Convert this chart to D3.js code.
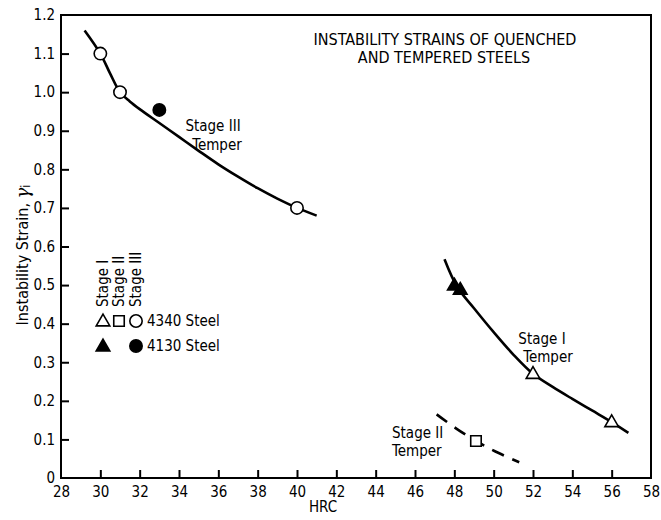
<!DOCTYPE html>
<html><head><meta charset="utf-8">
<script src="https://cdn.jsdelivr.net/npm/d3@7"></script>
<style>
body{margin:0;background:#fff;}
text{font-family:"DejaVu Sans Condensed","Liberation Sans Narrow","Liberation Sans",Arial,sans-serif;fill:#000;}
</style></head>
<body><svg id="c" width="661" height="520"></svg>
<script>
// ---- data ----
const xTicks = [28,30,32,34,36,38,40,42,44,46,48,50,52,54,56,58];
const yTicks = [0,0.1,0.2,0.3,0.4,0.5,0.6,0.7,0.8,0.9,1.0,1.1,1.2];
const yTickLabels = ["0","0.1","0.2","0.3","0.4","0.5","0.6","0.7","0.8","0.9","1.0","1.1","1.2"];

// fitted curves
const stage3CurveX = [29.2,30,30.5,31,31.5,32,33,34,35,36,37,38,39,40,41];
const stage3CurveY = [1.16,1.10,1.048,1.00,0.976,0.956,0.92,0.884,0.848,0.813,0.781,0.751,0.724,0.70,0.68];
const stage1CurveX = [47.5,48.15,49,50,51,52,53,54,55,56,56.85];
const stage1CurveY = [0.567,0.495,0.44,0.378,0.32,0.27,0.236,0.205,0.175,0.145,0.117];
const stage2CurveX = [47.1,48.1,49.1,50.2,51.3];
const stage2CurveY = [0.165,0.128,0.096,0.066,0.041];

// data points
const s4340Stage3X = [30,31,40];   const s4340Stage3Y = [1.10,1.00,0.70];
const s4130Stage3X = [33];         const s4130Stage3Y = [0.954];
const s4340Stage1X = [52,56];      const s4340Stage1Y = [0.271,0.146];
const s4130Stage1X = [48.0,48.3];  const s4130Stage1Y = [0.50,0.489];
const s4340Stage2X = [49.1];       const s4340Stage2Y = [0.096];

// ---- layout ----
const svg = d3.select("#c");
const x = d3.scaleLinear().domain([28,58]).range([61,651]);
const y = d3.scaleLinear().domain([0,1.2]).range([478,15]);

svg.append("rect").attr("x",x(28)).attr("y",y(1.2)).attr("width",x(58)-x(28)).attr("height",y(0)-y(1.2))
  .attr("fill","none").attr("stroke","#000").attr("stroke-width",2);

const fs = "15px";
const gx = svg.append("g").attr("transform",`translate(0,${y(0)})`)
  .call(d3.axisBottom(x).tickValues(xTicks).tickSize(-8).tickPadding(14).tickFormat(d3.format("d")));
gx.select(".domain").remove();
gx.selectAll(".tick line").attr("stroke","#000").attr("stroke-width",2);
gx.selectAll(".tick text").style("font-size",fs).attr("dy","0.35em");
gx.selectAll(".tick").filter(d=>d===28||d===58).select("line").remove();

const gy = svg.append("g").attr("transform",`translate(${x(28)},0)`)
  .call(d3.axisLeft(y).tickValues(yTicks).tickSize(-8).tickPadding(6).tickFormat((d,i)=>yTickLabels[i]));
gy.select(".domain").remove();
gy.selectAll(".tick line").attr("stroke","#000").attr("stroke-width",2);
gy.selectAll(".tick text").style("font-size",fs);
gy.selectAll(".tick").filter(d=>d===0||d===1.2).select("line").remove();

svg.append("text").attr("x",323).attr("y",507).attr("text-anchor","middle").attr("dominant-baseline","central")
  .style("font-size",fs).text("HRC");
const yl = svg.append("text").attr("transform","translate(22,255) rotate(-90)").attr("text-anchor","middle")
  .attr("dominant-baseline","central").style("font-size","16px");
yl.append("tspan").text("Instability Strain, ");
yl.append("tspan").style("font-style","italic").style("font-family","'DejaVu Serif',serif").style("font-size","18px").text("γ");
yl.append("tspan").attr("dy","4").style("font-size","12px").text("i");

// title
svg.append("text").attr("x",445).attr("y",39).attr("text-anchor","middle").attr("dominant-baseline","central")
  .style("font-size","16px").text("INSTABILITY STRAINS OF QUENCHED");
svg.append("text").attr("x",444).attr("y",57).attr("text-anchor","middle").attr("dominant-baseline","central")
  .style("font-size","16px").text("AND TEMPERED STEELS");

const line = d3.line().x(d=>x(d[0])).y(d=>y(d[1])).curve(d3.curveCatmullRom.alpha(0.5));
function curve(xs,ys,dash){
  svg.append("path").datum(xs.map((v,i)=>[v,ys[i]])).attr("d",line)
    .attr("fill","none").attr("stroke","#000").attr("stroke-width",2.6)
    .attr("stroke-dasharray",dash||null);
}
curve(stage3CurveX,stage3CurveY);
curve(stage1CurveX,stage1CurveY);
curve(stage2CurveX,stage2CurveY,"13,9");

const sym = {circle:[d3.symbolCircle,120], tri:[d3.symbolTriangle,80], sq:[d3.symbolSquare,110]};
function pts(xs,ys,kind,filled){
  svg.append("g").selectAll("path").data(xs.map((v,i)=>[v,ys[i]])).join("path")
    .attr("transform",d=>`translate(${x(d[0])},${y(d[1])+(kind==="tri"?1:0)})`)
    .attr("d",d3.symbol().type(sym[kind][0]).size(sym[kind][1]))
    .attr("fill",filled?"#000":"#fff").attr("stroke","#000").attr("stroke-width",1.6);
}
pts(s4340Stage3X,s4340Stage3Y,"circle",false);
pts(s4130Stage3X,s4130Stage3Y,"circle",true);
pts(s4340Stage1X,s4340Stage1Y,"tri",false);
pts(s4130Stage1X,s4130Stage1Y,"tri",true);
pts(s4340Stage2X,s4340Stage2Y,"sq",false);

function label(cx,cy,t,anchor){
  svg.append("text").attr("x",cx).attr("y",cy).attr("text-anchor",anchor||"middle")
    .attr("dominant-baseline","central").style("font-size",fs).text(t);
}
label(213,126,"Stage III"); label(217,145,"Temper");
label(542,339,"Stage I"); label(548,357,"Temper");
label(392,433,"Stage II","start"); label(392,451,"Temper","start");

// legend
const legStages = ["Stage I","Stage II","Stage III"];
const legX = [103,119,136];
legStages.forEach((t,i)=>svg.append("text").attr("transform",`translate(${legX[i]},307) rotate(-90)`)
  .attr("text-anchor","start").attr("dominant-baseline","central").style("font-size","15px").text(t));
const legKinds = ["tri","sq","circle"];
legKinds.forEach((k,i)=>{
  svg.append("path").attr("transform",`translate(${legX[i]},${321+(k==="tri"?1:0)})`)
    .attr("d",d3.symbol().type(sym[k][0]).size(sym[k][1])).attr("fill","#fff").attr("stroke","#000").attr("stroke-width",1.6);
});
[["tri",0],["circle",2]].forEach(([k,i])=>{
  svg.append("path").attr("transform",`translate(${legX[i]},${346+(k==="tri"?1:0)})`)
    .attr("d",d3.symbol().type(sym[k][0]).size(sym[k][1])).attr("fill","#000").attr("stroke","#000").attr("stroke-width",1.6);
});
svg.append("text").attr("x",147).attr("y",321).attr("dominant-baseline","central").style("font-size",fs).text("4340 Steel");
svg.append("text").attr("x",147).attr("y",346).attr("dominant-baseline","central").style("font-size",fs).text("4130 Steel");
</script></body></html>
